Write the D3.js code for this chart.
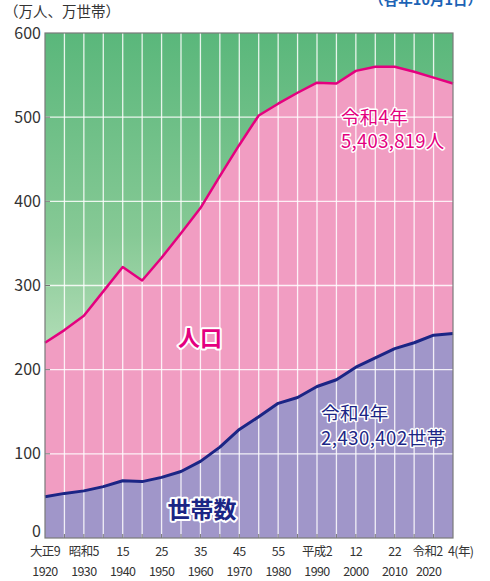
<!DOCTYPE html>
<html>
<head>
<meta charset="utf-8">
<script src="https://cdn.jsdelivr.net/npm/d3@7"></script>
<style>
	body { margin: 0; background: #fff; }
	svg { display: block; font-family: "Noto Sans CJK JP", "Noto Sans", sans-serif; }
	.halo { paint-order: stroke; stroke: #fff; stroke-linejoin: round; }
</style>
</head>
<body>
<div id="chart"></div>
<script>
// census years (plus 2022 estimate)
var years = [1920, 1925, 1930, 1935, 1940, 1945, 1950, 1955, 1960, 1965, 1970,
	1975, 1980, 1985, 1990, 1995, 2000, 2005, 2010, 2015, 2020, 2022];
// population, 10k persons
var population = [232, 247, 264, 293, 322, 306, 333, 362, 392, 430, 467,
	502, 516, 529, 541, 540, 555, 560, 560, 554, 547, 540];
// households, 10k
var households = [49, 53, 56, 61, 68, 67, 72, 79, 91, 108, 129,
	144, 160, 167, 180, 188, 203, 214, 225, 232, 241, 243];
var eraLabels = ["大正9", "昭和5", "15", "25", "35", "45", "55", "平成2", "12", "22", "令和2", "4(年)"];
var eraYears = [1920, 1930, 1940, 1950, 1960, 1970, 1980, 1990, 2000, 2010, 2020, 2022];
var yTicks = [0, 100, 200, 300, 400, 500, 600];

(function() {
	var width = 490, height = 581;
	var mLeft = 45, mRight = 453, mTop = 33, mBottom = 538;

	var svg = d3.select("#chart").append("svg")
		.attr("width", width)
		.attr("height", height);

	var x = d3.scalePoint().domain(years).range([mLeft, mRight]);
	var y = d3.scaleLinear().domain([0, 600]).range([mBottom, mTop]);

	var rows = years.map(function(yr, i) {
		return { year: yr, pop: population[i], hh: households[i] };
	});

	// green background gradient
	var grad = svg.append("defs").append("linearGradient")
		.attr("id", "bg")
		.attr("x1", 0).attr("y1", 0).attr("x2", 0).attr("y2", 1);
	grad.append("stop").attr("offset", "0%").attr("stop-color", "#5ab77b");
	grad.append("stop").attr("offset", "40%").attr("stop-color", "#86c995");
	grad.append("stop").attr("offset", "65%").attr("stop-color", "#b6dfba");
	grad.append("stop").attr("offset", "100%").attr("stop-color", "#d5ecd5");

	svg.append("rect")
		.attr("x", mLeft).attr("y", mTop)
		.attr("width", mRight - mLeft).attr("height", mBottom - mTop)
		.attr("fill", "url(#bg)");

	var popArea = d3.area()
		.x(d => x(d.year))
		.y0(y(0))
		.y1(d => y(d.pop));
	var hhArea = d3.area()
		.x(d => x(d.year))
		.y0(y(0))
		.y1(d => y(d.hh));

	svg.append("path").datum(rows).attr("d", popArea).attr("fill", "#f19dc2");
	svg.append("path").datum(rows).attr("d", hhArea).attr("fill", "#a096c9");

	// grid
	var grid = svg.append("g").attr("stroke", "#fff").attr("stroke-opacity", 0.85).attr("stroke-width", 1.3);
	grid.selectAll("line.v")
		.data(years.slice(1, -1))
		.enter().append("line")
		.attr("x1", d => x(d)).attr("x2", d => x(d))
		.attr("y1", mTop).attr("y2", mBottom);
	grid.selectAll("line.h")
		.data(yTicks.slice(1, -1))
		.enter().append("line")
		.attr("x1", mLeft).attr("x2", mRight)
		.attr("y1", d => y(d)).attr("y2", d => y(d));

	// small ticks
	var ticks = svg.append("g").attr("stroke", "#777").attr("stroke-width", 1);
	ticks.selectAll("line.xt")
		.data(years.slice(1, -1))
		.enter().append("line")
		.attr("x1", d => x(d)).attr("x2", d => x(d))
		.attr("y1", mBottom - 4).attr("y2", mBottom);
	ticks.selectAll("line.yt")
		.data(yTicks.slice(1, -1))
		.enter().append("line")
		.attr("x1", mLeft).attr("x2", mLeft + 5)
		.attr("y1", d => y(d)).attr("y2", d => y(d));

	// lines
	svg.append("path").datum(rows)
		.attr("d", d3.line().x(d => x(d.year)).y(d => y(d.pop)))
		.attr("fill", "none").attr("stroke", "#e4007f").attr("stroke-width", 2.5)
		.attr("stroke-linejoin", "round");
	svg.append("path").datum(rows)
		.attr("d", d3.line().x(d => x(d.year)).y(d => y(d.hh)))
		.attr("fill", "none").attr("stroke", "#1b2585").attr("stroke-width", 3)
		.attr("stroke-linejoin", "round");

	// frame
	svg.append("rect")
		.attr("x", mLeft).attr("y", mTop)
		.attr("width", mRight - mLeft).attr("height", mBottom - mTop)
		.attr("fill", "none").attr("stroke", "#7a7a7a").attr("stroke-width", 1.2);

	// y labels
	svg.append("g").selectAll("text")
		.data(yTicks)
		.enter().append("text")
		.attr("x", 41).attr("y", d => d == 0 ? y(d) - 1 : y(d) + 5.5)
		.attr("text-anchor", "end")
		.attr("font-size", 16)
		.attr("fill", "#333")
		.text(d => d);

	// x labels
	var last = eraYears.length - 1;
	var xl = svg.append("g").attr("font-size", 12.5).attr("fill", "#333").attr("letter-spacing", -0.6);
	xl.selectAll("text.era")
		.data(eraYears)
		.enter().append("text")
		.attr("x", (d, i) => i == last ? x(d) - 5 : (i == last - 1 ? x(d) - 6 : x(d)))
		.attr("y", 556)
		.attr("text-anchor", (d, i) => i == last ? "start" : "middle")
		.text((d, i) => eraLabels[i]);
	xl.selectAll("text.yr")
		.data(eraYears.slice(0, -1))
		.enter().append("text")
		.attr("x", (d, i) => i == last - 1 ? x(d) - 5 : x(d))
		.attr("y", 576)
		.attr("text-anchor", "middle")
		.text(d => d);

	// header
	svg.append("text")
		.attr("x", 4).attr("y", 17)
		.attr("font-size", 14.5).attr("fill", "#333")
		.text("（万人、万世帯）");
	svg.append("text")
		.attr("x", 482).attr("y", 5)
		.attr("text-anchor", "end")
		.attr("font-size", 14.5).attr("font-weight", "bold").attr("fill", "#1d63b5")
		.text("（各年10月1日）");

	// series labels
	svg.append("text").attr("class", "halo")
		.attr("x", 200).attr("y", 346)
		.attr("text-anchor", "middle")
		.attr("font-size", 22).attr("font-weight", "bold")
		.attr("fill", "#e4007f").attr("stroke-width", 4)
		.text("人口");
	svg.append("text").attr("class", "halo")
		.attr("x", 202).attr("y", 518)
		.attr("text-anchor", "middle")
		.attr("font-size", 23).attr("font-weight", "bold")
		.attr("fill", "#1b2585").attr("stroke-width", 4)
		.text("世帯数");

	var popNote = svg.append("text").attr("class", "halo")
		.attr("font-size", 18.5).attr("letter-spacing", 0.3)
		.attr("fill", "#e4007f").attr("stroke-width", 3);
	popNote.append("tspan").attr("x", 341).attr("y", 124).text("令和4年");
	popNote.append("tspan").attr("x", 341).attr("y", 148).text("5,403,819人");

	var hhNote = svg.append("text").attr("class", "halo")
		.attr("font-size", 18.5).attr("letter-spacing", 0.5)
		.attr("fill", "#1b2585").attr("stroke-width", 3);
	hhNote.append("tspan").attr("x", 321).attr("y", 420).text("令和4年");
	hhNote.append("tspan").attr("x", 321).attr("y", 445).text("2,430,402世帯");
})();
</script>
</body>
</html>
